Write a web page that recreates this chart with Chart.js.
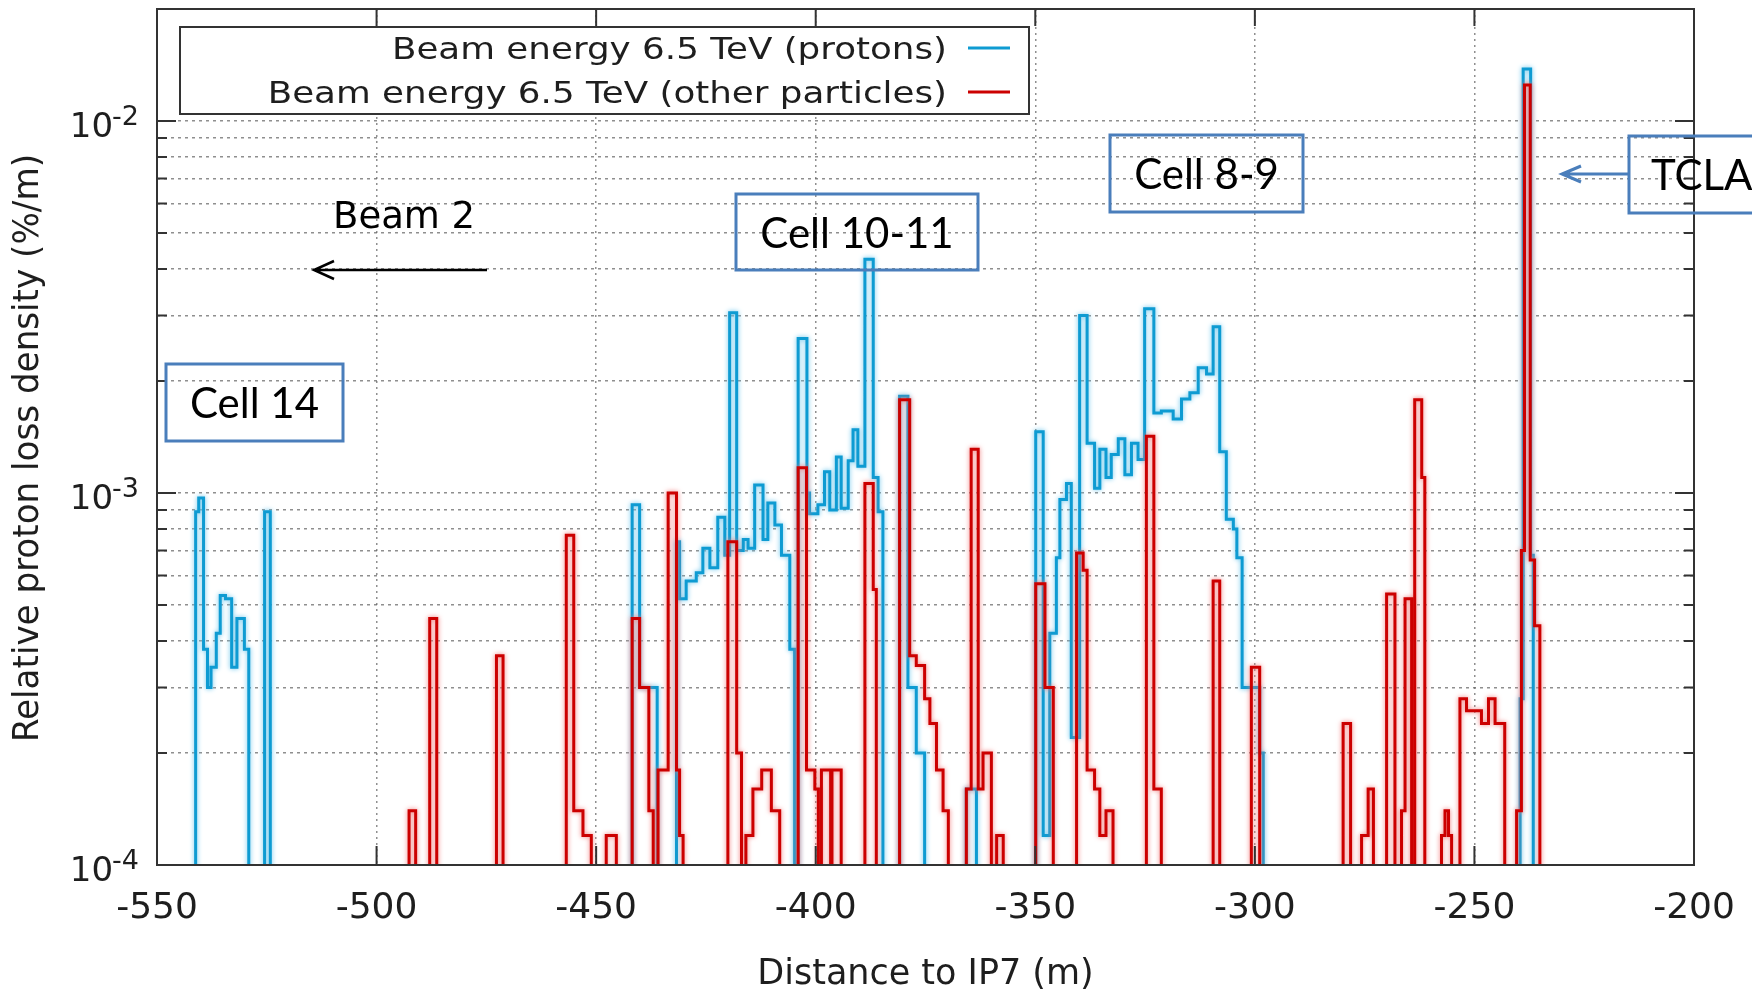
<!DOCTYPE html>
<html>
<head>
<meta charset="utf-8">
<script src="https://cdn.jsdelivr.net/npm/chart.js@4.4.1/dist/chart.umd.min.js"></script>
<style>
  html, body { margin: 0; padding: 0; background: #fff; }
  canvas { display: block; }
</style>
</head>
<body>
<canvas id="lossChart" width="1752" height="992"></canvas>
<script>
// Loss histogram bins: [from (m), to (m), loss density (%/m)]; gaps = no loss
const protonBins = [
  [-541.2, -540.5, 8.9e-4], [-540.5, -539.4, 9.7e-4], [-539.4, -538.5, 3.8e-4],
  [-538.5, -537.7, 3.0e-4], [-537.7, -536.5, 3.4e-4], [-536.5, -535.6, 4.2e-4],
  [-535.6, -534.4, 5.3e-4], [-534.4, -533.0, 5.2e-4], [-533.0, -531.8, 3.4e-4],
  [-531.8, -530.1, 4.6e-4], [-530.1, -529.1, 3.8e-4], [-525.5, -524.2, 8.9e-4],
  [-441.8, -440.1, 9.3e-4], [-440.1, -436.1, 3.0e-4],
  [-431.7, -431.0, 7.4e-4], [-431.0, -429.5, 5.2e-4], [-429.5, -427.2, 5.8e-4],
  [-427.2, -425.7, 6.1e-4], [-425.7, -424.1, 7.1e-4], [-424.1, -422.3, 6.3e-4],
  [-422.3, -420.7, 8.6e-4], [-420.7, -419.6, 6.8e-4], [-419.6, -418.0, 3.05e-3],
  [-418.0, -416.5, 7.0e-4], [-416.5, -415.4, 7.5e-4], [-415.4, -413.9, 7.1e-4],
  [-413.9, -412.0, 1.05e-3], [-412.0, -410.9, 7.5e-4], [-410.9, -409.3, 9.4e-4],
  [-409.3, -407.8, 8.2e-4], [-407.8, -405.9, 6.8e-4], [-405.9, -404.8, 3.8e-4],
  [-404.0, -402.0, 2.6e-3], [-402.0, -401.4, 1.0e-3], [-401.4, -399.5, 8.8e-4],
  [-399.5, -398.0, 9.3e-4], [-398.0, -396.8, 1.14e-3], [-396.8, -395.3, 9.0e-4],
  [-395.3, -394.2, 1.25e-3], [-394.2, -392.6, 9.1e-4], [-392.6, -391.5, 1.22e-3],
  [-391.5, -390.4, 1.48e-3], [-390.4, -388.8, 1.18e-3], [-388.8, -386.9, 4.25e-3],
  [-386.9, -385.8, 1.1e-3], [-385.8, -384.7, 8.9e-4],
  [-380.9, -379.0, 1.82e-3], [-379.0, -377.1, 3.0e-4], [-377.1, -375.2, 2.0e-4],
  [-365.7, -363.4, 1.6e-4],
  [-349.9, -348.2, 1.46e-3], [-348.2, -346.7, 1.2e-4], [-346.7, -345.2, 4.2e-4],
  [-345.2, -344.4, 6.7e-4], [-344.4, -342.9, 9.6e-4], [-342.9, -341.8, 1.06e-3],
  [-341.8, -339.9, 2.2e-4], [-339.9, -338.2, 3.0e-3], [-338.2, -336.5, 1.36e-3],
  [-336.5, -335.3, 1.03e-3], [-335.3, -333.9, 1.31e-3], [-333.9, -332.7, 1.1e-3],
  [-332.7, -331.1, 1.27e-3], [-331.1, -329.6, 1.40e-3], [-329.6, -328.1, 1.12e-3],
  [-328.1, -326.6, 1.36e-3], [-326.6, -325.1, 1.23e-3], [-325.1, -323.0, 3.13e-3],
  [-323.0, -321.3, 1.64e-3], [-321.3, -318.6, 1.66e-3], [-318.6, -316.7, 1.58e-3],
  [-316.7, -314.8, 1.79e-3], [-314.8, -312.9, 1.86e-3], [-312.9, -311.0, 2.17e-3],
  [-311.0, -309.5, 2.09e-3], [-309.5, -308.0, 2.8e-3], [-308.0, -306.5, 1.29e-3],
  [-306.5, -304.9, 8.5e-4], [-304.9, -304.1, 8.0e-4], [-304.1, -302.9, 6.7e-4],
  [-302.9, -298.9, 3.0e-4], [-298.9, -298.1, 2.0e-4],
  [-239.6, -238.9, 2.8e-4], [-238.9, -237.2, 1.38e-2], [-237.2, -236.6, 6.8e-4]
];

const otherBins = [
  [-492.6, -491.1, 1.4e-4], [-487.9, -486.3, 4.6e-4], [-472.7, -471.2, 3.65e-4],
  [-456.8, -455.1, 7.7e-4], [-455.1, -453.0, 1.4e-4], [-453.0, -451.1, 1.2e-4],
  [-447.7, -445.4, 1.2e-4],
  [-441.8, -440.1, 4.6e-4], [-440.1, -438.0, 3.0e-4], [-438.0, -437.0, 1.4e-4],
  [-435.9, -433.6, 1.8e-4], [-433.6, -431.7, 1.0e-3], [-431.7, -431.0, 1.8e-4],
  [-431.0, -430.2, 1.2e-4],
  [-420.0, -418.0, 7.4e-4], [-418.0, -416.9, 2.0e-4],
  [-415.9, -414.3, 1.2e-4], [-414.3, -412.3, 1.6e-4], [-412.3, -410.1, 1.8e-4],
  [-410.1, -408.2, 1.4e-4],
  [-404.0, -402.1, 1.17e-3], [-402.1, -400.2, 1.8e-4], [-400.2, -399.4, 1.6e-4],
  [-398.7, -396.6, 1.8e-4], [-396.3, -394.2, 1.8e-4],
  [-388.8, -386.9, 1.06e-3], [-386.9, -386.2, 5.5e-4],
  [-380.9, -378.6, 1.78e-3], [-378.6, -377.1, 3.65e-4], [-377.1, -375.2, 3.44e-4],
  [-375.2, -374.0, 2.8e-4], [-374.0, -372.5, 2.4e-4], [-372.5, -371.0, 1.8e-4],
  [-371.0, -369.8, 1.4e-4],
  [-365.7, -364.6, 1.6e-4], [-364.6, -363.0, 1.31e-3], [-363.0, -361.9, 1.6e-4],
  [-361.9, -360.0, 2.0e-4], [-358.8, -357.3, 1.2e-4],
  [-349.9, -347.8, 5.7e-4], [-347.8, -345.9, 3.0e-4],
  [-340.6, -339.1, 6.9e-4], [-339.1, -338.2, 6.2e-4], [-338.2, -336.5, 1.8e-4],
  [-336.5, -335.3, 1.6e-4], [-335.3, -333.9, 1.2e-4], [-333.9, -332.3, 1.4e-4],
  [-324.7, -323.0, 1.42e-3], [-323.0, -321.3, 1.6e-4],
  [-309.5, -308.0, 5.8e-4], [-300.8, -298.9, 3.4e-4],
  [-279.9, -278.2, 2.4e-4], [-275.7, -274.2, 1.2e-4], [-274.2, -273.0, 1.6e-4],
  [-270.0, -268.1, 5.35e-4], [-266.6, -265.8, 1.4e-4], [-265.8, -264.3, 5.2e-4],
  [-263.6, -262.0, 1.78e-3], [-262.0, -261.3, 1.1e-3],
  [-257.5, -256.7, 1.2e-4], [-256.7, -255.9, 1.4e-4], [-255.9, -255.2, 1.2e-4],
  [-253.3, -251.8, 2.8e-4], [-251.8, -248.4, 2.6e-4], [-248.4, -246.8, 2.4e-4],
  [-246.8, -245.3, 2.8e-4], [-245.3, -243.1, 2.4e-4],
  [-240.4, -239.3, 1.4e-4], [-239.3, -238.6, 7.0e-4], [-238.6, -237.3, 1.25e-2],
  [-237.3, -236.3, 6.6e-4], [-236.3, -235.1, 4.4e-4]
];

const seriesLabels = ["Beam energy 6.5 TeV (protons)", "Beam energy 6.5 TeV (other particles)"];
const xTitle = "Distance to IP7 (m)";
const yTitle = "Relative proton loss density (%/m)";
const xRange = [-550, -200];
const yRange = [1e-4, 2e-2];
const yDecades = [1e-4, 1e-3, 1e-2];

// no-loss bins sit below the axis and get clipped
const NO_LOSS = 1e-6;

function toSteps(bins) {
  const pts = [];
  let prevEnd = xRange[0];
  bins.forEach(([from, to, v]) => {
    if (from > prevEnd + 1e-9) pts.push({ x: prevEnd, y: NO_LOSS });
    pts.push({ x: from, y: v });
    prevEnd = to;
  });
  pts.push({ x: prevEnd, y: NO_LOSS });
  pts.push({ x: xRange[1], y: NO_LOSS });
  return pts;
}

// y gridlines: 1..9 per decade, up to the top of the axis
const yTicks = [];
yDecades.forEach(d => {
  for (let k = 1; k <= 9; k++) {
    if (d * k <= yRange[1] * 1.0001) yTicks.push(d * k);
  }
});

const gridColor = "rgba(105,105,105,0.75)";
const textColor = "#1e1e1e";
const condensed = '"DejaVu Sans Condensed", "DejaVu Sans", sans-serif';

// text stretched along its direction (the original image is widened)
function wideText(ctx, text, x, y, sx, rot) {
  ctx.save();
  ctx.translate(x, y);
  if (rot) ctx.rotate(rot);
  ctx.scale(sx, 1);
  ctx.fillText(text, 0, 0);
  ctx.restore();
}

const decor = {
  id: "decor",
  beforeDatasetDraw(chart, args) {
    const ctx = chart.ctx;
    ctx.save();
    ctx.shadowColor = chart.data.datasets[args.index].haloColor;
    ctx.shadowBlur = 5;
  },
  afterDatasetDraw(chart) {
    chart.ctx.restore();
  },
  afterDraw(chart) {
    const { ctx, chartArea: ca, scales } = chart;
    const x = scales.x, y = scales.y;
    ctx.save();

    // frame
    ctx.strokeStyle = "#333";
    ctx.lineWidth = 2;
    ctx.strokeRect(ca.left, ca.top, ca.right - ca.left, ca.bottom - ca.top);

    // inward ticks, mirrored
    ctx.beginPath();
    yTicks.forEach(v => {
      const py = y.getPixelForValue(v);
      const len = yDecades.includes(v) ? 19 : 10;
      ctx.moveTo(ca.left, py); ctx.lineTo(ca.left + len, py);
      ctx.moveTo(ca.right, py); ctx.lineTo(ca.right - len, py);
    });
    x.ticks.forEach(t => {
      const px = x.getPixelForValue(t.value);
      ctx.moveTo(px, ca.bottom); ctx.lineTo(px, ca.bottom - 19);
      ctx.moveTo(px, ca.top); ctx.lineTo(px, ca.top + 17);
    });
    ctx.stroke();

    // y tick labels 10^n
    ctx.fillStyle = textColor;
    ctx.textAlign = "right";
    ctx.textBaseline = "alphabetic";
    yDecades.forEach(v => {
      const py = y.getPixelForValue(v);
      const sup = "-" + Math.abs(Math.round(Math.log10(v)));
      ctx.font = '27px "DejaVu Sans"';
      const sw = ctx.measureText(sup).width;
      ctx.fillText(sup, 139, py + 4);
      ctx.font = '34px "DejaVu Sans"';
      ctx.fillText("10", 139 - sw + 1, py + 16);
    });

    // axis titles
    ctx.textAlign = "center";
    ctx.font = "36px " + condensed;
    ctx.textBaseline = "alphabetic";
    wideText(ctx, xTitle, (ca.left + ca.right) / 2, 984, 1.08);
    ctx.textBaseline = "middle";
    wideText(ctx, yTitle, 29, 448, 1.055, -Math.PI / 2);

    // legend
    ctx.fillStyle = "#fff";
    ctx.fillRect(180, 27, 849, 87);
    ctx.strokeStyle = "#333";
    ctx.lineWidth = 2;
    ctx.strokeRect(180, 27, 849, 87);
    ctx.font = '30px "DejaVu Sans"';
    ctx.textAlign = "right";
    ctx.textBaseline = "alphabetic";
    chart.data.datasets.forEach((ds, i) => {
      const ly = 48 + i * 44;
      ctx.fillStyle = textColor;
      wideText(ctx, ds.label, 947, ly + 11, 1.19);
      ctx.strokeStyle = ds.borderColor;
      ctx.lineWidth = 3;
      ctx.beginPath();
      ctx.moveTo(968, ly); ctx.lineTo(1010, ly);
      ctx.stroke();
    });

    // annotation boxes
    const noteBlue = "#4a7ebb";
    const boxes = [
      { text: "Cell 14", x: 166, y: 364, w: 177, h: 77 },
      { text: "Cell 10-11", x: 736, y: 194, w: 242, h: 76 },
      { text: "Cell 8-9", x: 1110, y: 135, w: 193, h: 77 },
      { text: "TCLA", x: 1629, y: 136, w: 150, h: 77, left: 1651 }
    ];
    ctx.font = "42px Lato";
    ctx.textBaseline = "middle";
    boxes.forEach(b => {
      ctx.strokeStyle = noteBlue;
      ctx.lineWidth = 3;
      ctx.strokeRect(b.x, b.y, b.w, b.h);
      ctx.fillStyle = "#000";
      if (b.left) {
        ctx.textAlign = "left";
        ctx.fillText(b.text, b.left, b.y + b.h / 2 + 2);
      } else {
        ctx.textAlign = "center";
        ctx.fillText(b.text, b.x + b.w / 2, b.y + b.h / 2 + 2);
      }
    });

    // TCLA arrow
    ctx.strokeStyle = noteBlue;
    ctx.lineWidth = 3;
    ctx.beginPath();
    ctx.moveTo(1629, 174); ctx.lineTo(1562, 174);
    ctx.moveTo(1581, 166); ctx.lineTo(1562, 174); ctx.lineTo(1581, 182);
    ctx.stroke();

    // Beam 2 label and arrow
    ctx.fillStyle = "#000";
    ctx.textAlign = "left";
    ctx.textBaseline = "alphabetic";
    ctx.font = '37px "DejaVu Sans"';
    ctx.fillText("Beam 2", 333, 228);
    ctx.strokeStyle = "#000";
    ctx.lineWidth = 2.5;
    ctx.beginPath();
    ctx.moveTo(487, 270); ctx.lineTo(314, 270);
    ctx.moveTo(334, 261); ctx.lineTo(314, 270); ctx.lineTo(334, 279);
    ctx.stroke();

    ctx.restore();
  }
};

new Chart(document.getElementById("lossChart"), {
  type: "line",
  data: {
    datasets: [
      {
        label: seriesLabels[0],
        data: toSteps(protonBins),
        borderColor: "#0e9bd2",
        haloColor: "rgba(100,195,235,1)",
        borderWidth: 3,
        stepped: "before",
        pointRadius: 0,
        order: 2
      },
      {
        label: seriesLabels[1],
        data: toSteps(otherBins),
        borderColor: "#cc0000",
        haloColor: "rgba(240,120,120,1)",
        borderWidth: 3,
        stepped: "before",
        pointRadius: 0,
        order: 1
      }
    ]
  },
  options: {
    responsive: false,
    animation: false,
    devicePixelRatio: 1,
    layout: { padding: { left: 0, top: 9, right: 58, bottom: 0 } },
    plugins: {
      legend: { display: false },
      tooltip: { enabled: false }
    },
    scales: {
      x: {
        type: "linear",
        min: xRange[0],
        max: xRange[1],
        afterFit: s => {
          s.height = 127;
          s.paddingLeft = 0;
          s.paddingRight = 0;
        },
        ticks: {
          stepSize: 50,
          padding: 22,
          color: textColor,
          font: { family: '"DejaVu Sans"', size: 36 }
        },
        grid: {
          drawTicks: false,
          lineWidth: 1.5,
          color: c => (c.tick && (c.tick.value === xRange[0] || c.tick.value === xRange[1])) ? "rgba(0,0,0,0)" : gridColor
        },
        border: { display: false, dash: [2, 4] },
        title: { display: false }
      },
      y: {
        type: "logarithmic",
        min: yRange[0],
        max: yRange[1],
        afterFit: s => { s.width = 157; },
        afterBuildTicks: s => { s.ticks = yTicks.map(v => ({ value: v })); },
        ticks: { display: false },
        grid: { drawTicks: false, lineWidth: 1.5, color: gridColor },
        border: { display: false, dash: [3, 4] },
        title: { display: false }
      }
    }
  },
  plugins: [decor]
});
</script>
</body>
</html>
